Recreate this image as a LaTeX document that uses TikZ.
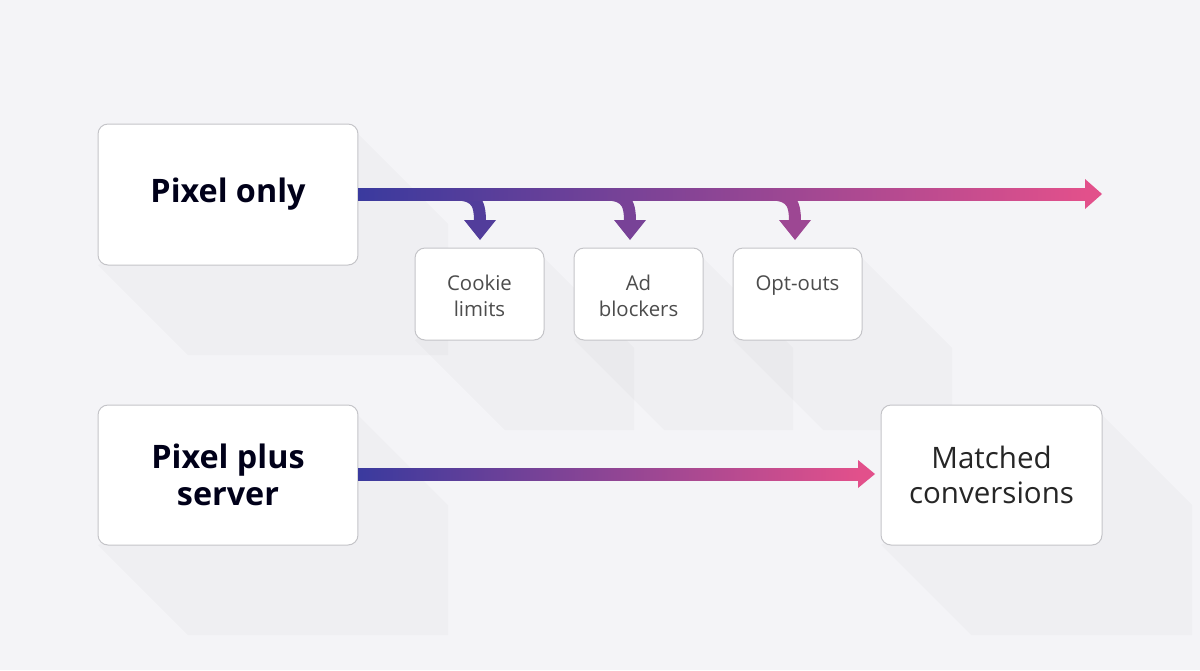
\documentclass[tikz,border=0pt]{standalone}
\usepackage{fontspec}
\setmainfont{Open Sans}
\usetikzlibrary{calc}
\definecolor{bg}{HTML}{F4F4F7}
\definecolor{ca}{HTML}{3A3A9E}
\definecolor{cb}{HTML}{E2508B}
\definecolor{bd}{HTML}{C4C4C8}
\begin{document}
\begin{tikzpicture}[x=0.05cm,y=-0.05cm,
  box/.style={draw=bd,line width=0.05cm,fill=white,rounded corners=0.5cm,inner sep=0pt,align=center,text=black!85!blue},
  big/.style={box,font=\fontsize{46}{52}\selectfont\bfseries,text=black!90!blue},
  small/.style={box,font=\fontsize{29}{36}\selectfont,text=black!70},
  lbl/.style={font=\fontsize{29}{36}\selectfont,text=black!70,align=center,anchor=north},
  mid/.style={box,font=\fontsize{42}{50}\selectfont,text=black!85}]
\fill[bg] (0,0) rectangle (1200,670);
\useasboundingbox (0,0) rectangle (1200,670);
% shadows
\foreach \a/\b/\c/\d in {98/124/358/265,415/248/544/340,574/248/703/340,733/248/862/340,98/405/358/545,881/405/1102/545}{
  \fill[black,opacity=0.018] (\c,\b+10) -- (\c+90,\b+100) -- (\c+90,\d+90) -- (\a+90,\d+90) -- (\a,\d) -- cycle;
}
\node[big,minimum width=13cm,minimum height=7.05cm] (p) at (228,194.5) {Pixel only};
\node[big,minimum width=13cm,minimum height=7cm] (ps) at (228,475) {Pixel plus\\server};
\node[small,minimum width=6.45cm,minimum height=4.6cm] (c) at (479.5,294) {};
\node[small,minimum width=6.45cm,minimum height=4.6cm] (a) at (638.5,294) {};
\node[small,minimum width=6.45cm,minimum height=4.6cm] (o) at (797.5,294) {};
\node[lbl] (ct) at (479.5,273) {Cookie\\limits};
\node[lbl] (at) at (638.5,273) {Ad\\blockers};
\node[lbl] (ot) at (797.5,273) {Opt-outs};
\node[mid,minimum width=11.05cm,minimum height=7cm] (m) at (991.5,475) {Matched\\conversions};
% branches
\foreach \x/\p in {480/86,630/63,795/41}{
  \draw[line width=0.6cm,color=ca!\p!cb] (\x-45,194) -- (\x-32,194) .. controls (\x-5,194) and (\x,200) .. (\x,222);
  \fill[ca!\p!cb] (\x-16,220) -- (\x+16,220) -- (\x,240) -- cycle;
}
% top main line
\shade[left color=ca,right color=cb] (358,188) rectangle (1087,200);
\fill[cb] (1085,179) -- (1102,194) -- (1085,209) -- cycle;
% bottom line
\shade[left color=ca,right color=cb] (358,468) rectangle (860,480);
\fill[cb] (858,460) -- (875,474) -- (858,488) -- cycle;
\end{tikzpicture}
\end{document}
